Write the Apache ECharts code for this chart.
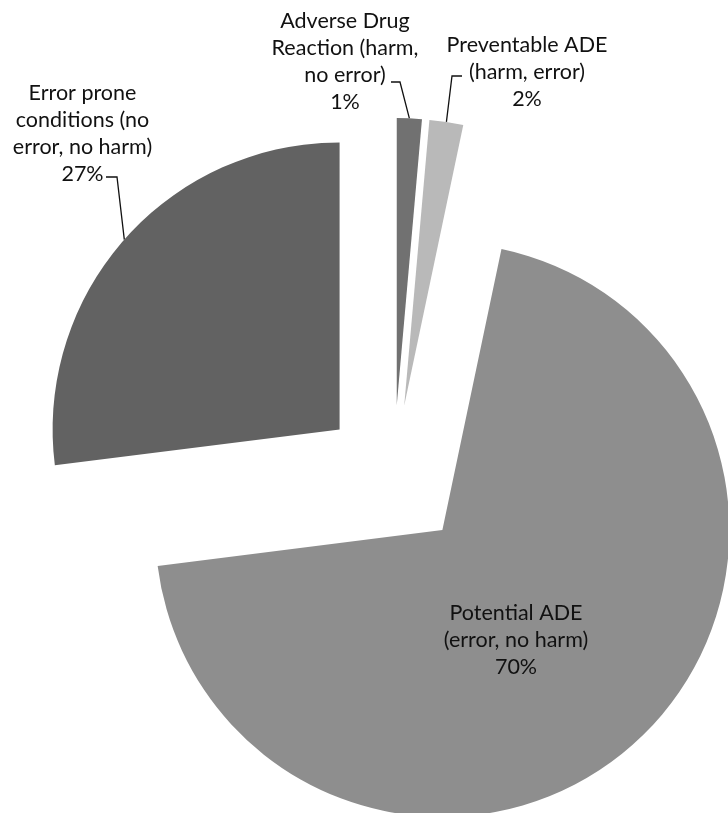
<!DOCTYPE html>
<html>
<head>
<meta charset="utf-8">
<script src="https://cdn.jsdelivr.net/npm/echarts@6/dist/echarts.min.js"></script>
<style>
  html, body { margin: 0; padding: 0; background: #ffffff; }
  #chart { width: 728px; height: 813px; }
</style>
</head>
<body>
<div id="chart"></div>
<script>
// Medication event categories (label lines broken as printed)
const categories = [
  'Adverse Drug\nReaction (harm,\nno error)',
  'Preventable ADE\n(harm, error)',
  'Potential ADE\n(error, no harm)',
  'Error prone\nconditions (no\nerror, no harm)'
];
// Share of all events, percent
const shares = [1.4, 1.9, 69.7, 27.0];
const sliceColors = ['#717171', '#b9b9b9', '#8e8e8e', '#626262'];

// Pie geometry (pixels)
const PIE_CENTER = [393.6, 477];
const PIE_RADIUS = 287;
const EXPLODE = 72;

// Label block centres and leader-line elbow / end points
const labelSpots = [
  { x: 345, y: 62, elbow: [400, 82], end: [391, 82] },
  { x: 527, y: 72, elbow: [452, 76], end: [462, 76] },
  { x: 516, y: 640 },
  { x: 82.5, y: 134, elbow: [117, 177], end: [106, 177] }
];

const FONT = { fontFamily: 'Lato', fontSize: 21.5, lineHeight: 27, color: '#111111' };

// Each slice is pulled out along its own bisector
const total = shares.reduce((a, b) => a + b, 0);
let cum = 0;
const slices = shares.map((v) => {
  const a0 = cum / total * 2 * Math.PI;
  cum += v;
  const a1 = cum / total * 2 * Math.PI;
  const mid = (a0 + a1) / 2;
  const dir = [Math.sin(mid), -Math.cos(mid)];
  const center = [PIE_CENTER[0] + EXPLODE * dir[0], PIE_CENTER[1] + EXPLODE * dir[1]];
  const rim = [center[0] + PIE_RADIUS * dir[0], center[1] + PIE_RADIUS * dir[1]];
  return { center, rim };
});

const series = slices.map((s, k) => ({
  type: 'pie',
  center: s.center,
  radius: PIE_RADIUS,
  startAngle: 90,
  clockwise: true,
  percentPrecision: 0,
  avoidLabelOverlap: false,
  silent: true,
  animation: false,
  emphasis: { disabled: true },
  data: categories.map((name, i) => ({
    name,
    value: shares[i],
    itemStyle: { color: i === k ? sliceColors[i] : 'rgba(0,0,0,0)', borderWidth: 0 },
    label: { show: i === k },
    labelLine: { show: i === k && labelSpots[i].elbow !== undefined }
  })),
  label: Object.assign({
    position: labelSpots[k].elbow ? 'outside' : 'inside',
    formatter: '{b}\n{d}%',
    align: 'center'
  }, FONT),
  labelLine: { length: 10, length2: 10, lineStyle: { color: '#111111', width: 1.3 } },
  labelLayout: (p) => {
    const spot = labelSpots[p.dataIndex];
    const out = { x: spot.x, y: spot.y, align: 'center', verticalAlign: 'middle' };
    if (spot.elbow) {
      out.labelLinePoints = [slices[p.dataIndex].rim.slice(), spot.elbow.slice(), spot.end.slice()];
    }
    return out;
  }
}));

const chart = echarts.init(document.getElementById('chart'), null, { renderer: 'canvas' });
chart.setOption({
  backgroundColor: '#ffffff',
  animation: false,
  series
});
</script>
</body>
</html>
